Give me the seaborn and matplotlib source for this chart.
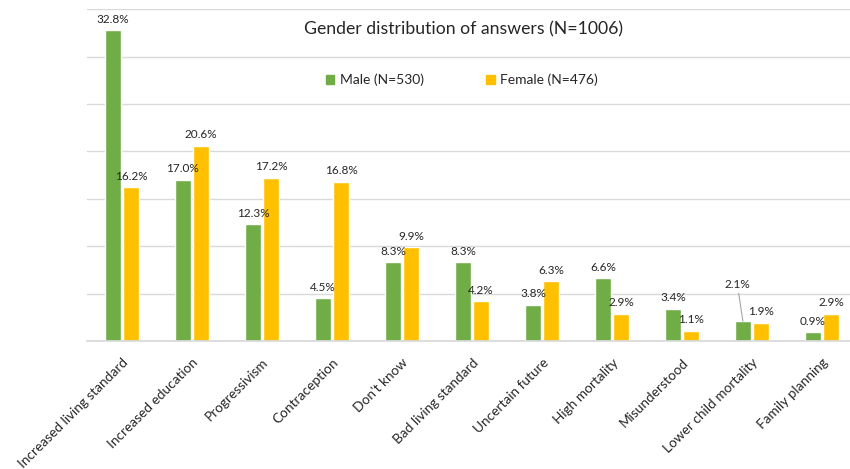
import matplotlib
matplotlib.use("Agg")
import matplotlib.pyplot as plt
import seaborn as sns
import pandas as pd

categories = ["Increased living standard", "Increased education", "Progressivism",
              "Contraception", "Don't know", "Bad living standard", "Uncertain future",
              "High mortality", "Misunderstood", "Lower child mortality", "Family planning"]
male = [32.8, 17.0, 12.3, 4.5, 8.3, 8.3, 3.8, 6.6, 3.4, 2.1, 0.9]
female = [16.2, 20.6, 17.2, 16.8, 9.9, 4.2, 6.3, 2.9, 1.1, 1.9, 2.9]
series = ["Male (N=530)", "Female (N=476)"]
colors = ["#70AD47", "#FFC000"]

df = pd.DataFrame({
    "cat": categories * 2,
    "val": male + female,
    "series": [series[0]] * len(categories) + [series[1]] * len(categories),
})

sns.set_theme(style="white")
plt.rcParams['font.family'] = ['Lato', 'DejaVu Sans']

fig = plt.figure(figsize=(8.5, 4.69), dpi=100)
ax = fig.add_axes([87/850, 1-341/469, 770/850, (341-9.3)/469])

sns.barplot(data=df, x="cat", y="val", hue="series", palette=colors,
            width=0.52, gap=0.12, ax=ax, legend=False, saturation=1)

ax.set_ylim(0, 35)
ax.set_xlim(-0.5, 10.5)
ax.set_yticks(range(0, 36, 5))
ax.yaxis.grid(True, color="#D9D9D9", linewidth=1)
ax.set_axisbelow(True)
for s in ["top", "right", "left"]:
    ax.spines[s].set_visible(False)
ax.spines["bottom"].set_color("#D9D9D9")
ax.tick_params(axis="y", left=False, labelleft=False)
ax.tick_params(axis="x", bottom=False, pad=5)
ax.set_xlabel("")
ax.set_ylabel("")
plt.setp(ax.get_xticklabels(), rotation=45, ha="right", rotation_mode="anchor",
         fontsize=9.8, color="#262626")

for ci, cont in enumerate(ax.containers):
    for i, bar in enumerate(cont):
        h = bar.get_height()
        x = bar.get_x() + bar.get_width() / 2
        txt = f"{h:.1f}%"
        if ci == 0 and categories[i] == "Lower child mortality":
            ax.annotate(txt, xy=(x, h), xytext=(x - 0.08, h + 3.3),
                        ha="center", va="bottom", fontsize=8.5, color="#262626",
                        arrowprops=dict(arrowstyle="-", color="#A6A6A6", lw=0.8,
                                        shrinkA=0, shrinkB=0))
        else:
            ax.annotate(txt, xy=(x, h), xytext=(0, 4), textcoords="offset points",
                        ha="center", va="bottom", fontsize=8.5, color="#262626")

fig.text(463/850, 1-29/469, "Gender distribution of answers (N=1006)", ha="center",
         va="center", fontsize=12.7, color="#262626")

handles = [plt.Rectangle((0, 0), 1, 1, color=c) for c in colors]
fig.legend(handles, series, loc="center", bbox_to_anchor=(462/850, 1-80/469),
           ncol=2, frameon=False, fontsize=10, handlelength=0.6, handleheight=0.6,
           handletextpad=0.4, columnspacing=4.5, labelcolor="#262626")

fig.savefig("out.png", dpi=100)
